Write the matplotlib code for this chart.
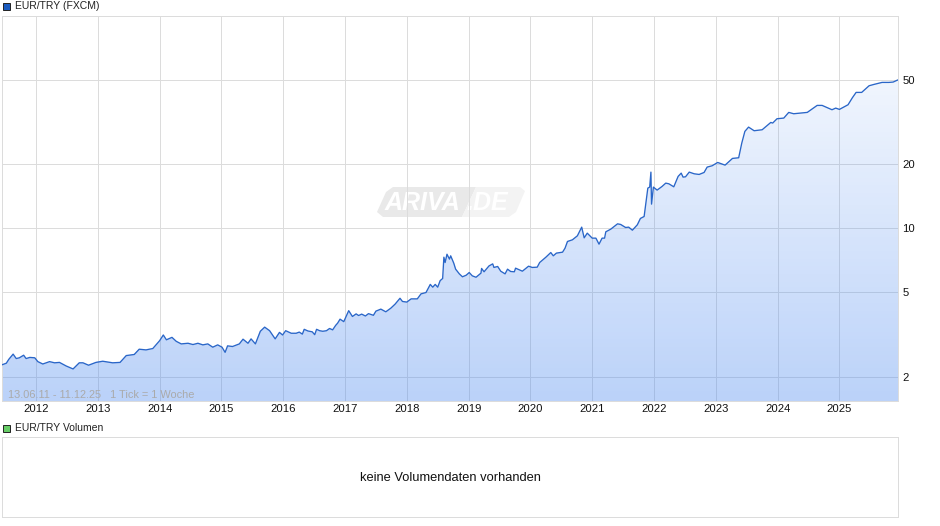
import numpy as np
import matplotlib
matplotlib.use("Agg")
import matplotlib.pyplot as plt
from matplotlib.patches import Polygon, Rectangle
from matplotlib.colors import to_rgb

plt.rcParams['font.family'] = ['Liberation Sans', 'DejaVu Sans']

dates = [
 2011.45,2011.52,2011.56,2011.63,2011.68,2011.73,2011.80,2011.84,2011.90,2011.98,
 2012.03,2012.11,2012.22,2012.30,2012.38,2012.49,2012.60,2012.70,2012.76,2012.85,2012.97,
 2013.08,2013.24,2013.36,2013.46,2013.59,2013.67,2013.78,2013.89,
 2014.00,2014.06,2014.11,2014.20,2014.27,2014.35,2014.46,2014.54,2014.62,2014.70,2014.78,2014.86,2014.94,
 2015.01,2015.06,2015.10,2015.18,2015.29,2015.35,2015.43,2015.48,2015.55,2015.63,2015.70,2015.78,2015.87,2015.94,2015.99,
 2016.04,2016.13,2016.21,2016.26,2016.31,2016.34,2016.40,2016.47,2016.51,2016.54,2016.59,2016.64,2016.70,2016.75,2016.80,2016.85,2016.88,2016.92,2016.98,
 2017.06,2017.12,2017.18,2017.22,2017.27,2017.33,2017.38,2017.46,2017.50,2017.58,2017.66,2017.74,2017.81,2017.89,2017.93,
 2018.00,2018.07,2018.17,2018.23,2018.31,2018.38,2018.42,2018.46,2018.50,2018.54,2018.58,2018.60,2018.62,2018.65,2018.69,2018.71,2018.76,2018.79,2018.85,2018.90,2018.96,
 2019.01,2019.06,2019.12,2019.20,2019.21,2019.25,2019.33,2019.39,2019.41,2019.47,2019.52,2019.59,2019.63,2019.68,2019.74,2019.76,2019.87,2019.97,
 2020.03,2020.11,2020.15,2020.25,2020.33,2020.37,2020.42,2020.52,2020.56,2020.60,2020.68,2020.76,2020.83,2020.87,2020.92,
 2021.00,2021.06,2021.11,2021.16,2021.20,2021.22,2021.30,2021.41,2021.46,2021.54,2021.59,2021.65,2021.73,2021.78,2021.84,2021.90,2021.93,2021.95,2021.96,2021.99,
 2022.05,2022.13,2022.19,2022.24,2022.32,2022.39,2022.44,2022.47,2022.51,2022.57,2022.65,2022.73,2022.81,2022.86,2022.94,
 2023.03,2023.15,2023.27,2023.37,2023.42,2023.47,2023.53,2023.62,2023.75,2023.89,2023.92,2023.99,
 2024.10,2024.18,2024.26,2024.48,2024.64,2024.72,2024.88,2024.94,
 2025.00,2025.14,2025.21,2025.27,2025.36,2025.48,2025.56,2025.69,2025.80,2025.87,2025.94,
]
rates = [
 2.28,2.32,2.42,2.56,2.44,2.46,2.53,2.44,2.47,2.46,
 2.36,2.30,2.36,2.33,2.34,2.25,2.18,2.33,2.33,2.27,2.34,
 2.37,2.33,2.34,2.52,2.55,2.70,2.68,2.72,
 2.96,3.15,2.99,3.07,2.94,2.86,2.88,2.84,2.88,2.83,2.86,2.76,2.83,
 2.76,2.61,2.80,2.78,2.86,3.01,2.88,3.02,2.86,3.28,3.43,3.30,3.02,3.24,3.15,
 3.30,3.21,3.21,3.25,3.18,3.35,3.29,3.26,3.16,3.35,3.30,3.28,3.30,3.38,3.33,3.50,3.58,3.74,3.64,
 4.10,3.85,3.96,3.89,3.95,3.87,3.97,3.90,4.08,4.17,4.05,4.21,4.40,4.69,4.53,
 4.50,4.66,4.66,4.92,4.99,5.45,5.29,5.45,5.29,5.68,5.81,7.32,6.91,7.56,7.17,7.43,6.86,6.43,6.11,5.92,6.02,
 6.20,5.98,5.89,6.16,6.48,6.25,6.66,6.81,6.55,6.62,6.29,6.11,6.43,6.27,6.25,6.50,6.29,6.64,
 6.55,6.57,6.91,7.32,7.70,7.43,7.65,7.73,8.07,8.68,8.84,9.23,10.14,9.03,9.50,
 9.00,9.00,8.43,9.00,9.00,9.64,9.92,10.51,10.44,10.10,10.14,9.81,10.40,11.14,11.38,15.48,15.65,18.41,13.01,15.65,
 15.15,15.76,16.34,16.22,15.70,17.57,18.21,17.44,17.50,18.41,18.08,17.95,18.34,19.44,19.72,
 20.44,19.86,21.36,21.51,25.21,28.62,29.99,28.83,29.14,31.55,31.33,32.83,
 33.07,35.17,34.66,35.17,37.94,37.94,36.20,36.85,
 36.33,38.22,41.24,43.68,43.68,46.95,47.64,48.68,48.68,48.87,49.93,
]
year_ticks = list(range(2012, 2026))
value_ticks = [2, 5, 10, 20, 50]
W, H = 940, 526

def fx(x): return x / W
def fy(y): return 1 - y / H

fig = plt.figure(figsize=(W / 100, H / 100), dpi=100, facecolor='white')
ax = fig.add_axes([fx(2), fy(401), (898 - 2) / W, (401 - 16) / H])
ax.set_yscale('log')
ax.set_xlim(2011.45, 2025.948)
ax.set_ylim(1.54, 100)

# watermark below grid
badge_dark = [(383, 217), (377, 212), (386, 192), (393, 187), (476, 187), (462, 217)]
badge_light = [(476, 187), (520, 187), (525, 191), (516, 212), (509, 217), (462, 217)]
fig.add_artist(Polygon([(fx(a), fy(b)) for a, b in badge_dark], transform=fig.transFigure,
                       fc='#e9e9e9', ec='none', zorder=0.5))
fig.add_artist(Polygon([(fx(a), fy(b)) for a, b in badge_light], transform=fig.transFigure,
                       fc='#f3f3f3', ec='none', zorder=0.5))
ax.patch.set_alpha(0)
ax.set_zorder(2)
fig.text(fx(385), fy(202.5), 'ARIVA', color='white', fontsize=18, fontstyle='italic',
         fontweight='bold', va='center', ha='left', zorder=1)
fig.text(fx(466), fy(202.5), '.DE', color='white', fontsize=18, fontstyle='italic',
         fontweight='bold', va='center', ha='left', zorder=1)

ax.set_xticks(year_ticks)
ax.set_xticklabels([str(y) for y in year_ticks], fontsize=8.1, color='#111111')
ax.set_yticks(value_ticks)
ax.set_yticklabels([str(v) for v in value_ticks], fontsize=8.1, color='#111111')
ax.minorticks_off()
ax.yaxis.tick_right()
ax.tick_params(axis='y', length=0, pad=3)
ax.tick_params(axis='x', length=0, pad=2)
ax.grid(True, color='#dcdcdc', lw=0.72, zorder=1)
ax.set_axisbelow(True)
for s in ax.spines.values():
    s.set_color('#dcdcdc')
    s.set_linewidth(0.72)

# gradient area
poly = ax.fill_between(dates, rates, 1.54, color='none', lw=0)
n = 200
edges = np.geomspace(1.54, 100, n + 1)
rgba = np.zeros((n, 1, 4))
rgba[:, 0, :3] = to_rgb('#508cf0')
rgba[:, 0, 3] = np.linspace(0.39, 0.02, n)
mesh = ax.pcolormesh([2011.45, 2025.948], edges, rgba, zorder=2, shading='flat')
mesh.set_clip_path(poly.get_paths()[0], transform=ax.transData)

ax.plot(dates, rates, color='#2a66c8', lw=0.95, zorder=3, solid_joinstyle='round')

ax.text(fx(8), fy(395), '13.06.11 - 11.12.25   1 Tick = 1 Woche', transform=fig.transFigure,
        fontsize=7.9, color='#aaaaaa', va='center', ha='left', zorder=4)

# legend markers
fig.add_artist(Rectangle((fx(3), fy(10)), 7 / W, 7 / H, transform=fig.transFigure,
                         fc='#1a5bbf', ec='#222222', lw=0.7))
fig.text(fx(15), fy(6), 'EUR/TRY (FXCM)', fontsize=7.45, color='#222222', va='center', ha='left')
fig.add_artist(Rectangle((fx(3), fy(432)), 7 / W, 7 / H, transform=fig.transFigure,
                         fc='#66cc66', ec='#222222', lw=0.7))
fig.text(fx(15), fy(428), 'EUR/TRY Volumen', fontsize=7.45, color='#222222', va='center', ha='left')

# volume panel
vol = fig.add_axes([fx(2), fy(517), (898 - 2) / W, 80 / H])
vol.set_xticks([]); vol.set_yticks([])
for s in vol.spines.values():
    s.set_color('#dcdcdc')
    s.set_linewidth(0.72)
vol.text(0.5, 0.49, 'keine Volumendaten vorhanden', transform=vol.transAxes,
         fontsize=9.25, color='#111111', ha='center', va='center')

fig.savefig('out.png', dpi=100)
